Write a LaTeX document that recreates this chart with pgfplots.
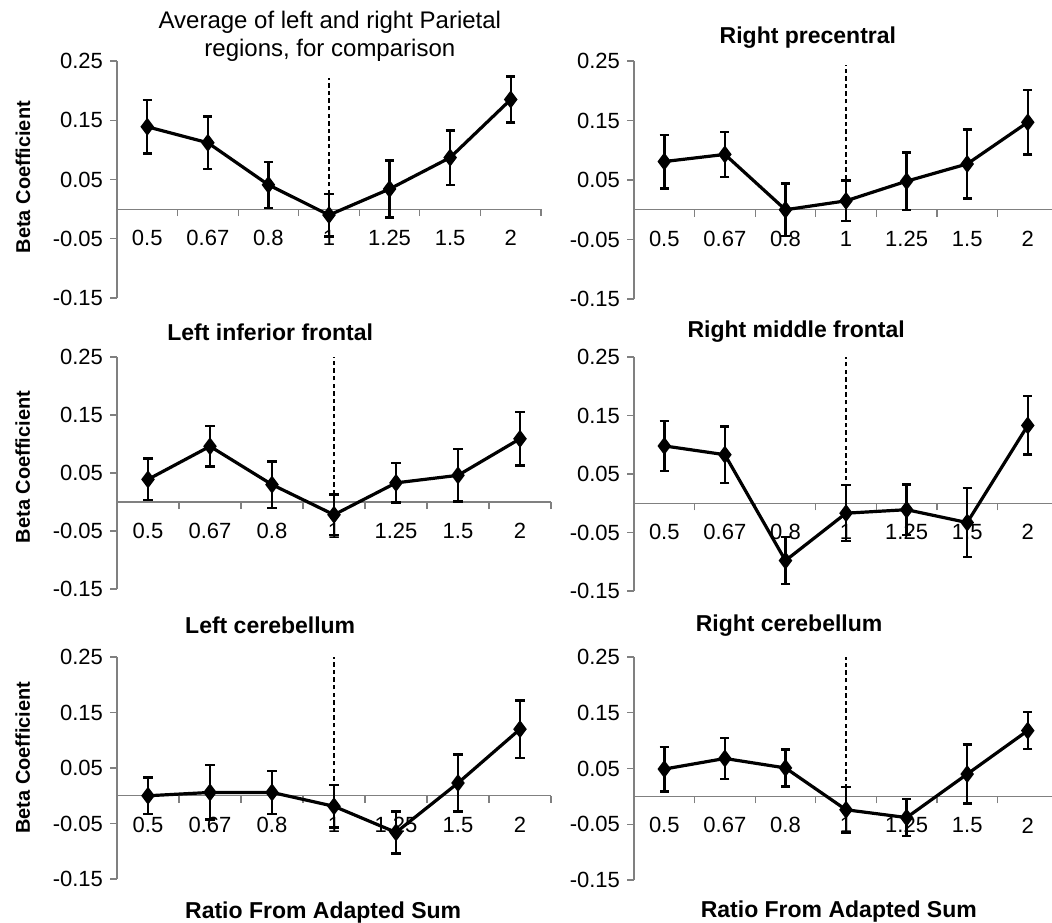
\documentclass[border=0pt]{standalone}
\usepackage{pgfplots}
\usepackage{pgfplotstable}
\pgfplotsset{compat=1.18}
\usepackage{fontspec}
\setmainfont{Liberation Sans}
\definecolor{axisgray}{RGB}{128,128,128}

\pgfplotstableread{
x y e
1 0.139 0.045
2 0.112 0.044
3 0.041 0.039
4 -0.010 0.036
5 0.034 0.048
6 0.087 0.046
7 0.185 0.039
}\parietal
\pgfplotstableread{
x y e
1 0.081 0.045
2 0.093 0.038
3 0.000 0.044
4 0.015 0.034
5 0.048 0.048
6 0.077 0.058
7 0.147 0.054
}\rprecentral
\pgfplotstableread{
x y e
1 0.039 0.036
2 0.096 0.035
3 0.030 0.040
4 -0.022 0.035
5 0.033 0.034
6 0.046 0.045
7 0.109 0.046
}\linffrontal
\pgfplotstableread{
x y e
1 0.098 0.043
2 0.083 0.048
3 -0.098 0.040
4 -0.017 0.048
5 -0.011 0.043
6 -0.033 0.059
7 0.133 0.050
}\rmidfrontal
\pgfplotstableread{
x y e
1 0.000 0.033
2 0.006 0.049
3 0.006 0.039
4 -0.019 0.038
5 -0.066 0.038
6 0.023 0.051
7 0.120 0.052
}\lcerebellum
\pgfplotstableread{
x y e
1 0.049 0.040
2 0.068 0.037
3 0.051 0.033
4 -0.024 0.041
5 -0.038 0.033
6 0.040 0.053
7 0.118 0.033
}\rcerebellum

\pgfplotsset{
  panel/.style={
    scale only axis,
    every axis title shift=0pt,
    axis y line=left,
    axis x line=middle,
    axis line style={-, draw=axisgray, line width=0.6pt},
    ymin=-0.15, ymax=0.25,
    xmin=0.5,
    ytick={-0.15,-0.05,0.05,0.15,0.25},
    yticklabels={-0.15,-0.05,0.05,0.15,0.25},
    xtick={1.5,2.5,3.5,4.5,5.5,6.5,7.5},
    xticklabels={},
    extra x ticks={1,2,3,4,5,6,7},
    extra x tick labels={0.5,0.67,0.8,1,1.25,1.5,2},
    extra x tick style={major tick length=0pt,
      xticklabel style={anchor=center, yshift=-14.5pt}},
    tick align=outside,
    major tick length=3.5pt,
    tick style={draw=axisgray, line width=0.6pt},
    tick label style={font=\fontsize{11}{13}\selectfont},
    title style={font=\bfseries\fontsize{11.5}{13}\selectfont, anchor=center},
    ylabel style={font=\bfseries\fontsize{10}{12}\selectfont, anchor=center},
    xlabel style={font=\bfseries\fontsize{11.5}{13}\selectfont, anchor=center},
  },
  dat/.style={black, line width=1.6pt, mark=diamond*, mark size=3.2pt,
    error bars/.cd, y dir=both, y explicit,
    error bar style={line width=1.2pt, black},
    error mark options={rotate=90, mark size=2.3pt, line width=1.2pt, black}},
  vline/.style={black, line width=0.7pt, dash pattern=on 2.2pt off 1.6pt, forget plot},
}

\begin{document}
\begin{tikzpicture}
\useasboundingbox (0,0) rectangle (526pt,461pt);

% Row 1 left
\begin{axis}[panel, at={(58.5pt,312pt)}, anchor=south west,
  width=212pt, height=118.5pt, xmax=7.5,
  title={Average of left and right Parietal\\regions, for comparison},
  title style={font=\fontsize{12}{14}\selectfont, align=center,
    at={(axis description cs:0.502,1.105)}},
  ylabel={Beta Coefficient},
  ylabel style={at={(axis description cs:-0.222,0.51)}}]
\addplot[vline] coordinates {(4,0) (4,0.221)};
\addplot[dat] table[x=x, y=y, y error=e] {\parietal};
\end{axis}

% Row 1 right
\begin{axis}[panel, at={(317pt,311.5pt)}, anchor=south west,
  width=209pt, height=119pt, xmax=7.4,
  title={Right precentral},
  title style={at={(axis description cs:0.416,1.097)}}]
\addplot[vline] coordinates {(4,0) (4,0.244)};
\addplot[dat] table[x=x, y=y, y error=e] {\rprecentral};
\end{axis}

% Row 2 left
\begin{axis}[panel, at={(58.5pt,166.5pt)}, anchor=south west,
  width=217pt, height=116pt, xmax=7.5,
  title={Left inferior frontal},
  title style={at={(axis description cs:0.353,1.108)}},
  ylabel={Beta Coefficient},
  ylabel style={at={(axis description cs:-0.217,0.526)}}]
\addplot[vline] coordinates {(4,0) (4,0.25)};
\addplot[dat] table[x=x, y=y, y error=e] {\linffrontal};
\end{axis}

% Row 2 right
\begin{axis}[panel, at={(317pt,165.5pt)}, anchor=south west,
  width=209pt, height=117pt, xmax=7.4,
  title={Right middle frontal},
  title style={at={(axis description cs:0.388,1.107)}}]
\addplot[vline] coordinates {(4,0) (4,0.25)};
\addplot[dat] table[x=x, y=y, y error=e] {\rmidfrontal};
\end{axis}

% Row 3 left
\begin{axis}[panel, at={(58.5pt,21.5pt)}, anchor=south west,
  width=217pt, height=111pt, xmax=7.5,
  title={Left cerebellum},
  title style={at={(axis description cs:0.353,1.144)}},
  ylabel={Beta Coefficient},
  ylabel style={at={(axis description cs:-0.217,0.547)}},
  xlabel={Ratio From Adapted Sum},
  xlabel style={at={(axis description cs:0.475,-0.149)}}]
\addplot[vline] coordinates {(4,0) (4,0.26)};
\addplot[dat] table[x=x, y=y, y error=e] {\lcerebellum};
\end{axis}

% Row 3 right
\begin{axis}[panel, at={(317pt,21pt)}, anchor=south west,
  width=209pt, height=111.5pt, xmax=7.4,
  title={Right cerebellum},
  title style={at={(axis description cs:0.371,1.143)}},
  xlabel={Ratio From Adapted Sum},
  xlabel style={at={(axis description cs:0.490,-0.1435)}}]
\addplot[vline] coordinates {(4,0) (4,0.26)};
\addplot[dat] table[x=x, y=y, y error=e] {\rcerebellum};
\end{axis}
\end{tikzpicture}
\end{document}
